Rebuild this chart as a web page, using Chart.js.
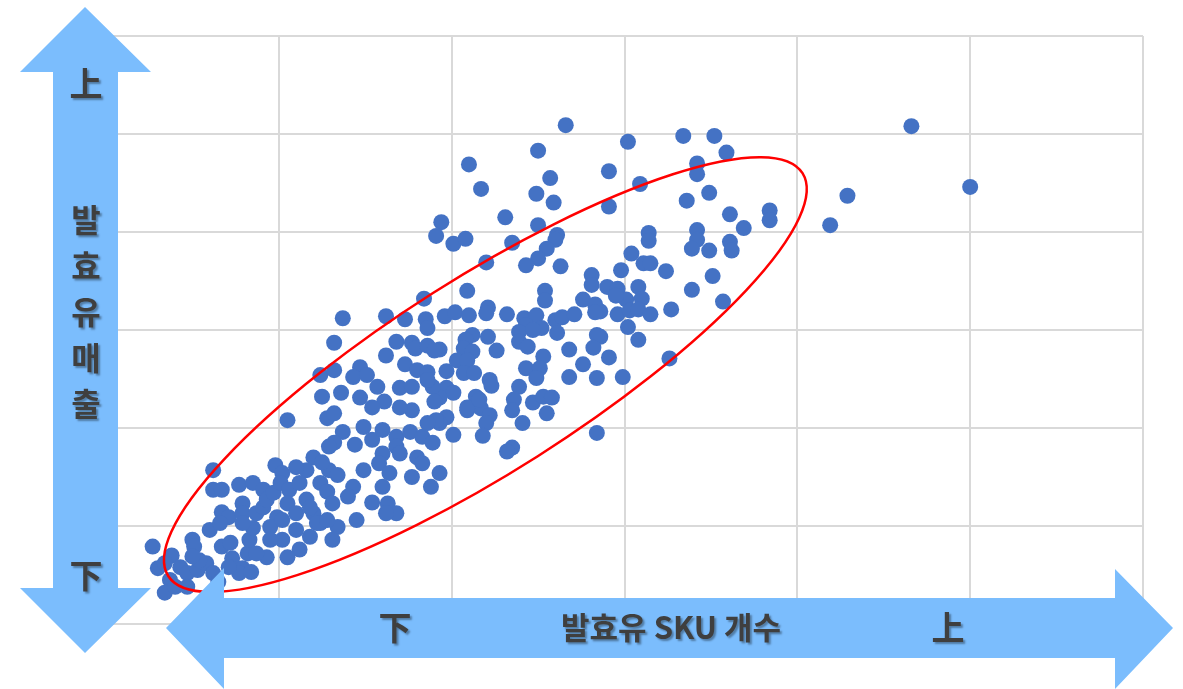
<!DOCTYPE html>
<html>
<head>
<meta charset="utf-8">
<script src="https://cdn.jsdelivr.net/npm/chart.js@4.4.1/dist/chart.umd.min.js"></script>
<style>
  html, body { margin: 0; padding: 0; background: #fff; }
  #wrap { width: 1183px; height: 689px; }
</style>
</head>
<body>
<div id="wrap"><canvas id="myChart" width="1183" height="689"></canvas></div>
<script>
// x = 발효유 SKU 개수 (no tick labels), y = 발효유 매출
const skuCount = [
  26.6, 30.2, 25.0, 21.0, 29.1, 25.7, 21.7, 24.9, 25.9, 29.1, 30.9, 23.1, 19.4, 25.0, 19.1, 20.1, 20.8, 23.5, 26.1, 26.0,
  25.5, 25.0, 22.0, 24.3, 26.3, 30.4, 29.8, 28.1, 28.1, 29.0, 29.6, 30.8, 20.9, 25.4, 33.4, 35.2, 35.9, 34.2, 34.2, 34.9,
  33.6, 36.1, 38.4, 38.4, 36.9, 31.4, 31.4, 34.2, 34.2, 33.9, 34.9, 36.1, 36.2, 31.1, 31.5, 32.4, 35.1, 30.1, 31.0, 29.6,
  30.3, 30.8, 31.5, 32.7, 33.9, 35.7, 28.6, 28.6, 30.2, 30.8, 29.1, 32.6, 29.9, 41.9, 42.9, 46.6, 50.0, 25.4, 29.5, 27.6,
  28.3, 28.3, 19.6, 20.2, 21.0, 22.1, 22.0, 23.2, 24.2, 24.9, 24.3, 25.2, 23.9, 24.7, 26.0, 26.4, 27.1, 26.1, 28.4, 28.2,
  26.8, 27.6, 28.4, 26.8, 21.2, 20.8, 22.1, 20.7, 21.2, 20.3, 22.6, 20.9, 23.9, 24.4, 25.3, 24.3, 25.1, 24.9, 19.7, 20.7,
  21.3, 22.2, 22.3, 23.9, 19.3, 19.7, 20.1, 21.4, 19.3, 23.6, 23.5, 24.7, 25.3, 25.8, 25.5, 20.9, 21.7, 22.2, 19.7, 19.3,
  22.0, 24.1, 20.1, 21.8, 28.4, 23.5, 23.2, 13.7, 16.2, 17.3, 18.4, 18.5, 18.6, 13.2, 16.8, 17.7, 17.9, 18.6, 19.0, 16.2,
  17.3, 14.7, 14.3, 15.1, 12.4, 13.2, 15.7, 18.0, 18.6, 12.5, 13.6, 14.7, 17.0, 17.7, 18.9, 12.8, 13.2, 18.6, 19.0, 20.9,
  21.6, 19.1, 18.6, 17.7, 17.0, 16.1, 15.4, 14.9, 13.7, 13.2, 14.4, 15.4, 16.0, 16.8, 17.6, 18.3, 18.9, 16.8, 16.0, 15.8,
  17.0, 18.0, 18.3, 17.7, 19.3, 18.8, 16.4, 16.0, 15.4, 16.3, 16.8, 16.2, 14.9, 14.3, 14.0, 14.5, 12.0, 11.6, 12.9, 13.4,
  12.4, 12.8, 13.1, 11.6, 12.0, 12.4, 13.4, 6.2, 6.2, 6.7, 7.7, 8.5, 9.1, 6.7, 7.1, 7.9, 7.9, 6.0, 6.6, 5.0,
  5.1, 2.7, 3.8, 3.0, 3.4, 4.3, 3.7, 3.4, 4.0, 4.7, 5.3, 5.8, 6.2, 6.7, 7.2, 7.3, 7.9, 7.7, 8.2, 8.3,
  8.5, 7.9, 8.7, 9.1, 9.3, 9.7, 9.8, 10.2, 11.0, 12.5, 10.1, 10.6, 11.2, 10.5, 9.9, 9.5, 10.2, 11.0, 11.8, 12.2,
  11.0, 10.2, 11.2, 10.5, 9.3, 9.5, 8.7, 11.8, 12.8, 13.1, 12.9, 10.5, 5.4, 4.7, 5.0, 7.1, 8.4, 6.5
];
const salesValue = [
  50.9, 49.2, 48.3, 46.9, 46.2, 45.5, 44.4, 43.9, 43.0, 42.6, 44.9, 41.5, 41.0, 40.7, 39.6, 38.8, 39.3, 38.9, 39.7, 39.2,
  38.3, 37.3, 36.9, 36.6, 36.5, 37.8, 36.1, 35.6, 34.6, 34.4, 34.2, 34.4, 34.0, 34.0, 49.8, 49.8, 48.1, 47.0, 45.9, 44.0,
  43.2, 41.8, 42.2, 41.2, 40.4, 39.9, 39.1, 40.2, 39.2, 38.3, 38.1, 39.0, 38.1, 36.8, 36.8, 36.0, 35.5, 33.1, 33.2, 31.6,
  32.0, 32.1, 31.6, 32.1, 34.1, 32.9, 31.9, 29.3, 30.3, 29.0, 27.2, 27.1, 25.2, 40.7, 43.7, 50.8, 44.6, 33.0, 33.5, 33.1,
  32.6, 31.8, 31.4, 31.8, 31.5, 32.3, 31.7, 31.6, 31.2, 31.5, 30.5, 30.2, 29.8, 30.0, 31.0, 31.3, 31.6, 29.7, 29.5, 28.2,
  28.0, 26.5, 25.1, 25.2, 29.5, 29.0, 29.3, 28.1, 27.8, 26.9, 27.9, 26.9, 28.8, 28.3, 27.3, 26.1, 26.1, 25.1, 25.8, 25.6,
  25.6, 24.9, 24.3, 24.2, 28.0, 24.1, 23.6, 23.2, 23.1, 22.9, 21.8, 22.6, 23.2, 23.1, 21.5, 21.8, 22.0, 21.3, 21.1, 20.5,
  20.5, 20.5, 19.3, 19.2, 19.5, 18.0, 17.6, 31.2, 31.4, 31.1, 33.2, 31.1, 30.2, 28.7, 28.8, 28.7, 28.1, 28.4, 27.9, 27.4,
  26.5, 26.2, 25.2, 25.4, 25.4, 25.9, 24.2, 25.9, 25.7, 23.2, 23.6, 23.1, 24.1, 24.2, 24.2, 21.0, 21.5, 24.9, 22.7, 22.1,
  22.9, 20.8, 20.5, 21.8, 22.1, 22.7, 22.1, 20.1, 19.6, 18.5, 18.3, 18.8, 19.8, 19.1, 19.6, 19.1, 18.5, 18.1, 17.4, 16.4,
  17.4, 17.0, 16.4, 15.0, 15.4, 14.0, 15.4, 14.0, 12.4, 12.3, 11.3, 11.3, 15.7, 14.0, 13.0, 10.6, 17.0, 15.7, 15.7, 15.2,
  14.4, 13.5, 12.3, 12.7, 11.3, 10.3, 9.9, 15.7, 13.7, 13.7, 14.2, 14.4, 13.7, 11.4, 10.9, 12.3, 11.3, 9.6, 10.3, 8.6,
  7.9, 7.9, 7.0, 5.7, 6.2, 5.8, 4.5, 3.2, 3.8, 5.2, 5.5, 6.2, 5.2, 7.9, 8.3, 6.7, 5.7, 5.2, 7.2, 8.6,
  9.8, 10.3, 11.3, 11.9, 12.7, 13.4, 16.2, 15.4, 16.0, 16.5, 14.4, 13.7, 14.4, 12.3, 10.9, 9.9, 10.6, 11.3, 11.9, 10.3,
  9.6, 8.6, 7.6, 6.8, 6.8, 8.6, 7.2, 8.9, 10.6, 8.6, 18.1, 20.8, 6.5, 3.8, 6.9, 5.8, 5.3, 4.3
];
const xTicks = [0, 10, 20, 30, 40, 50, 60];
const yTicks = [0, 10, 20, 30, 40, 50, 60];

// highlight ellipse: ends of the long axis (data units) and half width in px
const ellipseEnds = [[3.6, 4.9], [40.3, 46.0]];
const ellipseHalfWidth = 97;

const yArrowTexts = ['上', '下'];
const yTitleChars = ['발', '효', '유', '매', '출'];
const xArrowTexts = ['下', '발효유 SKU 개수', '上'];

const points = skuCount.map((x, i) => ({ x: x, y: salesValue[i] }));

const arrowBlue = '#7bbdfd';
const textColor = '#3f3f3f';

function drawText(c, txt, x, y, size) {
  c.save();
  c.font = '700 ' + (size || 32) + 'px "Noto Sans CJK KR", "Noto Sans", sans-serif';
  c.textAlign = 'center';
  c.textBaseline = 'middle';
  c.shadowColor = 'rgba(0,0,0,0.35)';
  c.shadowOffsetX = 2;
  c.shadowOffsetY = 2;
  c.shadowBlur = 2;
  c.fillStyle = textColor;
  c.fillText(txt, x, y);
  c.restore();
}

const overlay = {
  id: 'overlay',
  afterDatasetsDraw(chart) {
    const c = chart.ctx;
    const xs = chart.scales.x, ys = chart.scales.y;

    // red ellipse
    const p1 = [xs.getPixelForValue(ellipseEnds[0][0]), ys.getPixelForValue(ellipseEnds[0][1])];
    const p2 = [xs.getPixelForValue(ellipseEnds[1][0]), ys.getPixelForValue(ellipseEnds[1][1])];
    const cx = (p1[0] + p2[0]) / 2, cy = (p1[1] + p2[1]) / 2;
    const rx = Math.hypot(p2[0] - p1[0], p2[1] - p1[1]) / 2;
    const rot = Math.atan2(p2[1] - p1[1], p2[0] - p1[0]);
    c.save();
    c.beginPath();
    c.ellipse(cx, cy, rx, ellipseHalfWidth, rot, 0, Math.PI * 2);
    c.strokeStyle = '#ff0000';
    c.lineWidth = 2.5;
    c.stroke();
    c.restore();

    // vertical double arrow
    c.save();
    c.fillStyle = arrowBlue;
    c.beginPath();
    c.moveTo(85, 7);
    c.lineTo(151, 72);
    c.lineTo(118, 72);
    c.lineTo(118, 588);
    c.lineTo(151, 588);
    c.lineTo(85, 653);
    c.lineTo(20, 588);
    c.lineTo(53, 588);
    c.lineTo(53, 72);
    c.lineTo(20, 72);
    c.closePath();
    c.fill();

    // horizontal double arrow
    c.beginPath();
    c.moveTo(166, 628);
    c.lineTo(224, 568);
    c.lineTo(224, 598);
    c.lineTo(1115, 598);
    c.lineTo(1115, 569);
    c.lineTo(1173, 628);
    c.lineTo(1115, 689);
    c.lineTo(1115, 658);
    c.lineTo(224, 658);
    c.lineTo(224, 689);
    c.closePath();
    c.fill();
    c.restore();

    drawText(c, yArrowTexts[0], 86, 83, 33);
    drawText(c, yArrowTexts[1], 86, 575, 33);
    yTitleChars.forEach((ch, i) => drawText(c, ch, 86, 220 + i * 46, 32));
    drawText(c, xArrowTexts[0], 395, 627, 33);
    drawText(c, xArrowTexts[1], 671, 627, 31);
    drawText(c, xArrowTexts[2], 948, 627, 33);
  }
};

const ctx = document.getElementById('myChart');

new Chart(ctx, {
  type: 'scatter',
  data: {
    datasets: [{
      data: points,
      backgroundColor: '#4472c4',
      borderWidth: 0,
      pointRadius: 8,
      pointHoverRadius: 8
    }]
  },
  options: {
    responsive: false,
    animation: false,
    devicePixelRatio: 1,
    layout: { padding: { left: 106, top: 36, right: 40, bottom: 65 } },
    plugins: { legend: { display: false }, tooltip: { enabled: false } },
    scales: {
      x: {
        type: 'linear',
        min: xTicks[0],
        max: xTicks[xTicks.length - 1],
        afterBuildTicks: s => { s.ticks = xTicks.map(v => ({ value: v })); },
        ticks: { display: false },
        border: { display: false },
        grid: { color: '#d9d9d9', lineWidth: 2, drawTicks: false }
      },
      y: {
        type: 'linear',
        min: yTicks[0],
        max: yTicks[yTicks.length - 1],
        afterBuildTicks: s => { s.ticks = yTicks.map(v => ({ value: v })); },
        ticks: { display: false },
        border: { display: false },
        grid: { color: '#d9d9d9', lineWidth: 2, drawTicks: false }
      }
    }
  },
  plugins: [overlay]
});
</script>
</body>
</html>
